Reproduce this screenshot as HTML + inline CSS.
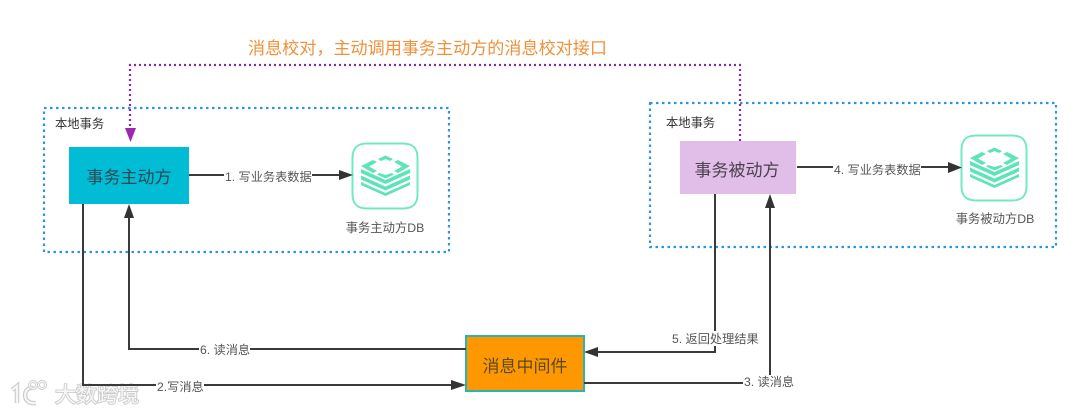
<!DOCTYPE html>
<html><head><meta charset="utf-8"><style>
html,body{margin:0;padding:0;background:#fff;width:1080px;height:414px;overflow:hidden}
svg{display:block;filter:blur(0.35px)}
text{font-family:"Liberation Sans","Noto Sans CJK SC",sans-serif}
.l{font-size:12.2px;fill:#555}
.lb{fill:#fff}
.w{font-size:21px;fill:#f6f6f6;stroke:#cccccc;stroke-width:1.800px;paint-order:stroke}
</style></head><body>
<svg width="1080" height="414" viewBox="0 0 1080 414" xmlns="http://www.w3.org/2000/svg">
<defs>
<g id="db">
<path d="M16 1.500H52C62 1.500 66.500 6 66.500 16V52C66.500 62 62 66.500 52 66.500H16C6 66.500 1.500 62 1.500 52V16C1.500 6 6 1.500 16 1.500Z" fill="#fff" stroke="#72e8c4" stroke-width="2"/>
<g fill="#5fe3b8">
<path d="M10 27L34.500 38L59 27V31L34.500 42L10 31Z"/>
<path d="M10 33.500L34.500 44.500L59 33.500V37.500L34.500 48.500L10 37.500Z"/>
<path d="M10 40L34.500 51L59 40V43L34.500 54L10 43Z"/>
<path d="M10 24L22 18L26 20L18 24.500L26 29L22 31Z"/>
<path d="M59 24L47 18L43 20L51 24.500L43 29L47 31Z"/>
<path d="M27 17L34.500 13.500L42 17L39 19L34.500 17L30 19Z"/>
<path d="M28 31L34.500 33L41 31L43 32.500L34.500 36.500L26 32.500Z"/>
</g>
</g>
</defs>

<rect x="44" y="108" width="405" height="144" fill="none" stroke="#2f94dc" stroke-width="2.200" stroke-dasharray="2.500 3.500"/>
<rect x="650" y="103" width="406" height="144" fill="none" stroke="#2f94dc" stroke-width="2.200" stroke-dasharray="2.500 3.500"/>

<text x="55" y="128" font-size="12.300" fill="#333">本地事务</text>
<text x="666" y="127" font-size="12.300" fill="#333">本地事务</text>

<text x="248" y="54" font-size="17.100" fill="#f0913a">消息校对，主动调用事务主动方的消息校对接口</text>

<path d="M740 141V65H130V128" fill="none" stroke="#8e24aa" stroke-width="2.200" stroke-dasharray="2 3"/>
<path d="M125 128H136L130.500 142Z" fill="#9c27b0"/>

<rect x="69" y="147" width="120" height="57" fill="#00bcd4"/>
<text x="129" y="183" font-size="17" fill="#2a4a55" text-anchor="middle">事务主动方</text>
<rect x="680" y="141" width="116" height="53" fill="#e1bee7"/>
<text x="737" y="176" font-size="17" fill="#4b4050" text-anchor="middle">事务被动方</text>
<rect x="466" y="336" width="118" height="55" fill="#ff9800" stroke="#26b5b5" stroke-width="2"/>
<text x="525" y="372" font-size="17" fill="#5a4a20" text-anchor="middle">消息中间件</text>

<use href="#db" x="351" y="142"/>
<use href="#db" x="960" y="134"/>
<text x="385" y="232" font-size="12.300" fill="#555" text-anchor="middle">事务主动方DB</text>
<text x="995" y="223" font-size="12.300" fill="#555" text-anchor="middle">事务被动方DB</text>

<text x="55" y="402" class="w">大数跨境</text>
<g fill="none">
<path d="M12 390L17 386V403M33 388C23 386 21 405 36 403" stroke="#cccccc" stroke-width="4.500"/>
<path d="M12 390L17 386V403M33 388C23 386 21 405 36 403" stroke="#f6f6f6" stroke-width="2.200"/>
<circle cx="33" cy="385" r="3.500" stroke="#cccccc" stroke-width="3"/>
<circle cx="33" cy="385" r="3.500" stroke="#f6f6f6" stroke-width="1.200"/>
<circle cx="42" cy="385" r="3.500" stroke="#cccccc" stroke-width="3"/>
<circle cx="42" cy="385" r="3.500" stroke="#f6f6f6" stroke-width="1.200"/>
</g>

<g fill="none" stroke="#3a3a3a" stroke-width="2">
<path d="M189 175H340"/>
<path d="M797 167H950"/>
<path d="M83 204V385H452"/>
<path d="M466 349H129V216"/>
<path d="M715 194V352H596"/>
<path d="M584 383H770V206"/>
</g>
<g fill="#333">
<path d="M339 170L353 175L339 180Z"/>
<path d="M948 162L962 167.500L948 173Z"/>
<path d="M451 380L466 385L451 390Z"/>
<path d="M124 218L129 204L134 218Z"/>
<path d="M765 208L770 194L775 208Z"/>
<path d="M598 347L584 352L598 357Z"/>
</g>

<g>
<rect x="224" y="168" width="88" height="15" class="lb"/>
<text x="225" y="181" class="l">1. 写业务表数据</text>
<rect x="833" y="160" width="88" height="15" class="lb"/>
<text x="834" y="174" class="l">4. 写业务表数据</text>
<rect x="199" y="342" width="51" height="15" class="lb"/>
<text x="200" y="354" class="l">6. 读消息</text>
<rect x="156" y="379" width="48" height="15" class="lb"/>
<text x="157" y="391" class="l">2.写消息</text>
<rect x="671" y="331" width="88" height="15" class="lb"/>
<text x="672" y="343" class="l">5. 返回处理结果</text>
<rect x="743" y="375" width="52" height="15" class="lb"/>
<text x="744" y="386" class="l">3. 读消息</text>
</g>
</svg>
</body></html>
